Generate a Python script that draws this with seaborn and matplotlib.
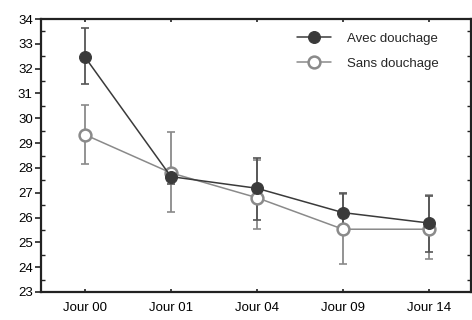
import matplotlib
matplotlib.use("Agg")
import matplotlib.pyplot as plt
from matplotlib.ticker import MultipleLocator
import seaborn as sns
import pandas as pd
import numpy as np

categories = ["Jour 00", "Jour 01", "Jour 04", "Jour 09", "Jour 14"]
avec_mean = [32.47, 27.65, 27.18, 26.2, 25.78]
avec_low = [31.37, 27.35, 25.92, 25.45, 24.62]
avec_high = [33.64, 27.95, 28.4, 26.97, 26.85]
sans_mean = [29.34, 27.8, 26.8, 25.53, 25.53]
sans_low = [28.15, 26.22, 25.52, 24.12, 24.31]
sans_high = [30.53, 29.46, 28.3, 26.95, 26.9]
series_names = ["Avec douchage", "Sans douchage"]

sns.set_theme(style="white")
plt.rcParams["font.family"] = ["Liberation Sans", "DejaVu Sans"]

fig = plt.figure(figsize=(4.72, 3.2), dpi=100)
ax = fig.add_axes([0.087, 0.0875, 0.911, 0.853])

dark = "#3a3a3a"
light = "#8a8a8a"

df_a = pd.DataFrame({"jour": categories, "val": avec_mean})
df_s = pd.DataFrame({"jour": categories, "val": sans_mean})

x = np.arange(len(categories))
ax.errorbar(x, sans_mean,
            yerr=[np.array(sans_mean) - np.array(sans_low), np.array(sans_high) - np.array(sans_mean)],
            fmt="none", ecolor=light, elinewidth=1.3, capsize=3, capthick=1.2, zorder=1)
ax.errorbar(x, avec_mean,
            yerr=[np.array(avec_mean) - np.array(avec_low), np.array(avec_high) - np.array(avec_mean)],
            fmt="none", ecolor="#555555", elinewidth=1.3, capsize=3, capthick=1.2, zorder=1)

sns.pointplot(data=df_s, x="jour", y="val", order=categories, ax=ax, color=light,
              markers="o", linestyles="-", errorbar=None, label=series_names[1],
              markersize=8.5, linewidth=1.1, markerfacecolor="white",
              markeredgecolor=light, markeredgewidth=1.8, zorder=3)
sns.pointplot(data=df_a, x="jour", y="val", order=categories, ax=ax, color=dark,
              markers="o", linestyles="-", errorbar=None, label=series_names[0],
              markersize=8.5, linewidth=1.1, markerfacecolor=dark,
              markeredgecolor=dark, zorder=4)

ax.set_xlim(-0.51, 4.49)
ax.set_ylim(23, 34)
ax.yaxis.set_major_locator(MultipleLocator(1))
ax.yaxis.set_minor_locator(MultipleLocator(0.5))
ax.set_xlabel("")
ax.set_ylabel("")

for s in ax.spines.values():
    s.set_color("#222222")
    s.set_linewidth(1.6)

ax.tick_params(axis="y", which="major", left=True, right=True, direction="out",
               length=4, width=1.2, color="#222222", labelsize=9.5, labelcolor="black", pad=2)
ax.tick_params(axis="y", which="minor", left=True, right=True, direction="in",
               length=3, width=1, color="#222222")
ax.tick_params(axis="x", which="major", bottom=True, top=True, direction="in",
               length=2, width=1.2, color="#222222", labelsize=9.5, labelcolor="black", pad=7)

handles, labels = ax.get_legend_handles_labels()
order = [labels.index(n) for n in series_names]
leg = ax.legend([handles[i] for i in order], [labels[i] for i in order],
                loc="upper right", bbox_to_anchor=(0.952, 0.995), frameon=False,
                fontsize=9.5, handlelength=2.6, handletextpad=1.2, labelspacing=1.0)

fig.savefig("out.png", dpi=100)
